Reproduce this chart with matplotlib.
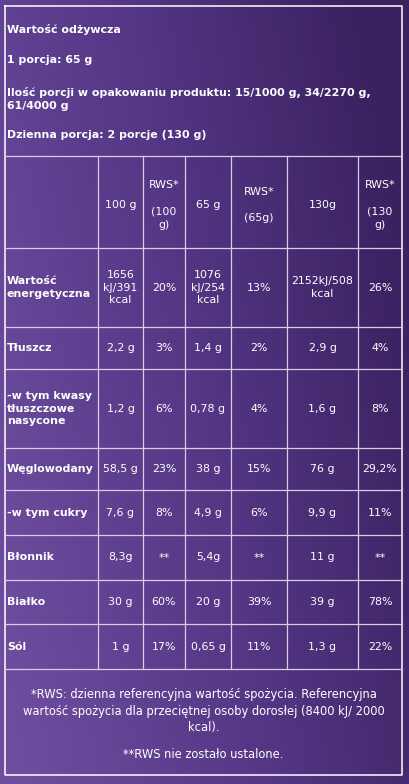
import matplotlib
matplotlib.use("Agg")
import matplotlib.pyplot as plt
import numpy as np
from matplotlib.colors import LinearSegmentedColormap

title_lines = ["Wartość odżywcza", "1 porcja: 65 g",
               "Ilość porcji w opakowaniu produktu: 15/1000 g, 34/2270 g,\n61/4000 g",
               "Dzienna porcja: 2 porcje (130 g)"]
title_y = [29, 60, 99, 135]
headers = ["", "100 g", "RWS*\n\n(100\ng)", "65 g", "RWS*\n\n(65g)", "130g", "RWS*\n\n(130\ng)"]
row_labels = ["Wartość\nenergetyczna", "Tłuszcz", "-w tym kwasy\ntłuszczowe\nnasycone",
              "Węglowodany", "-w tym cukry", "Błonnik", "Białko", "Sól"]
col_100g = ["1656\nkJ/391\nkcal", "2,2 g", "1,2 g", "58,5 g", "7,6 g", "8,3g", "30 g", "1 g"]
rws_100g = ["20%", "3%", "6%", "23%", "8%", "**", "60%", "17%"]
col_65g = ["1076\nkJ/254\nkcal", "1,4 g", "0,78 g", "38 g", "4,9 g", "5,4g", "20 g", "0,65 g"]
rws_65g = ["13%", "2%", "4%", "15%", "6%", "**", "39%", "11%"]
col_130g = ["2152kJ/508\nkcal", "2,9 g", "1,6 g", "76 g", "9,9 g", "11 g", "39 g", "1,3 g"]
rws_130g = ["26%", "4%", "8%", "29,2%", "11%", "**", "78%", "22%"]
footer = "*RWS: dzienna referencyjna wartość spożycia. Referencyjna\nwartość spożycia dla przeciętnej osoby dorosłej (8400 kJ/ 2000\nkcal)."
footer2 = "**RWS nie zostało ustalone."

W, H = 410, 784
fig = plt.figure(figsize=(W/100, H/100), dpi=100)
ax = fig.add_axes([0, 0, 1, 1])
ax.set_xlim(0, W); ax.set_ylim(H, 0); ax.axis("off")

# gradient background
xx, yy = np.meshgrid(np.linspace(0, 1, 200), np.linspace(0, 1, 400))
g = np.clip(xx * 0.85 - yy * 0.3 + 0.25, 0, 1)
cmap = LinearSegmentedColormap.from_list("p", ["#6e4d9e", "#553786", "#3a2160"])
ax.imshow(g, cmap=cmap, extent=[0, W, H, 0], aspect="auto", zorder=0)

lc = "#d8cce6"
lw = 0.9
L, R, T, B = 5, 402, 6, 775
ax.plot([L, R, R, L, L], [T, T, B, B, T], color="white", lw=1.1, zorder=2)
xs = [L, 98, 143, 185, 231, 287, 358, R]
ys = [156, 248, 327, 369, 448, 490, 535, 580, 624, 669]
for y in ys:
    ax.plot([L, R], [y, y], color=lc, lw=lw, zorder=2)
for x in xs[1:-1]:
    ax.plot([x, x], [ys[0], ys[-1]], color=lc, lw=lw, zorder=2)

fam = ["DejaVu Sans"]
fs = 7.9
for t, y in zip(title_lines, title_y):
    ax.text(7, y, t, color="white", fontsize=fs, fontweight="bold", va="center",
            ha="left", linespacing=1.35, family=fam)

# header
for i, h in enumerate(headers):
    cx = (xs[i] + xs[i+1]) / 2
    ax.text(cx, (ys[0] + ys[1]) / 2 + 3, h, color="white", fontsize=fs, ha="center",
            va="center", linespacing=1.4, family=fam)

cols = [col_100g, rws_100g, col_65g, rws_65g, col_130g, rws_130g]
for r, lab in enumerate(row_labels):
    cy = (ys[r+1] + ys[r+2]) / 2
    ax.text(7, cy, lab, color="white", fontsize=fs, fontweight="bold", ha="left",
            va="center", linespacing=1.35, family=fam)
    for c, col in enumerate(cols):
        cx = (xs[c+1] + xs[c+2]) / 2
        ax.text(cx, cy, col[r], color="white", fontsize=fs, ha="center",
                va="center", linespacing=1.35, family=fam)

ax.text((L + R) / 2, 711, footer, color="white", fontsize=8.3, ha="center",
        va="center", linespacing=1.35, family=fam)
ax.text((L + R) / 2, 755, footer2, color="white", fontsize=8.3, ha="center",
        va="center", family=fam)

fig.savefig("out.png", dpi=100)
